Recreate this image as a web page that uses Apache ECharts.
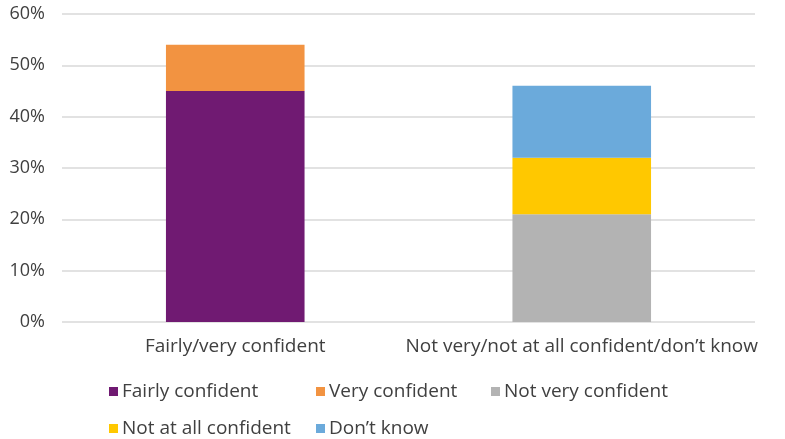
<!DOCTYPE html>
<html><head><meta charset="utf-8">
<script src="https://cdn.jsdelivr.net/npm/echarts@6/dist/echarts.min.js"></script>
<style>html,body{margin:0;padding:0;background:#fff}#c{width:785px;height:439px}</style>
</head><body><div id="c"></div>
<script>
var categories = ['Fairly/very confident', 'Not very/not at all confident/don\u2019t know'];
var seriesNames = ['Fairly confident', 'Very confident', 'Not very confident', 'Not at all confident', 'Don\u2019t know'];
var fairlyConfident = [45, null];
var veryConfident = [9, null];
var notVeryConfident = [null, 21];
var notAtAllConfident = [null, 11];
var dontKnow = [null, 14];
var yTicks = [0, 10, 20, 30, 40, 50, 60];

var colors = ['#701A72', '#F29341', '#B3B3B3', '#FFC800', '#6BAADB'];
var values = [fairlyConfident, veryConfident, notVeryConfident, notAtAllConfident, dontKnow];
var FONT = 'Open Sans';
var txt = '#404040';

var legendPos = [[109, 382], [316, 382], [491, 382], [109, 419], [316, 419]];
var legends = seriesNames.map(function (n, i) {
  return {
    data: [n], left: legendPos[i][0], top: legendPos[i][1], padding: 0,
    icon: 'rect', itemWidth: 9, itemHeight: 9, itemGap: 0,
    textStyle: { fontFamily: FONT, fontSize: 19, color: txt, padding: [0, 0, 0, -1] },
    selectedMode: false
  };
});

var chart = echarts.init(document.getElementById('c'));
chart.setOption({
  animation: false,
  color: colors,
  legend: legends,
  grid: { left: 62, right: 30, top: 14, bottom: 117, containLabel: false },
  xAxis: {
    type: 'category', data: categories,
    axisLine: { show: false }, axisTick: { show: false },
    axisLabel: { interval: 0, fontFamily: FONT, fontSize: 19, color: txt, margin: 15 }
  },
  yAxis: {
    type: 'value', min: 0, max: 60, interval: 10,
    axisLine: { show: false }, axisTick: { show: false },
    axisLabel: { fontFamily: FONT, fontSize: 18, color: txt, margin: 17,
      formatter: function (v) { return yTicks.indexOf(v) >= 0 ? v + '%' : ''; } },
    splitLine: { lineStyle: { color: '#D9D9D9', width: 1.5 } }
  },
  series: seriesNames.map(function (n, i) {
    return { name: n, type: 'bar', stack: 'total', barWidth: '40%', data: values[i], itemStyle: { color: colors[i] } };
  })
});
</script></body></html>
